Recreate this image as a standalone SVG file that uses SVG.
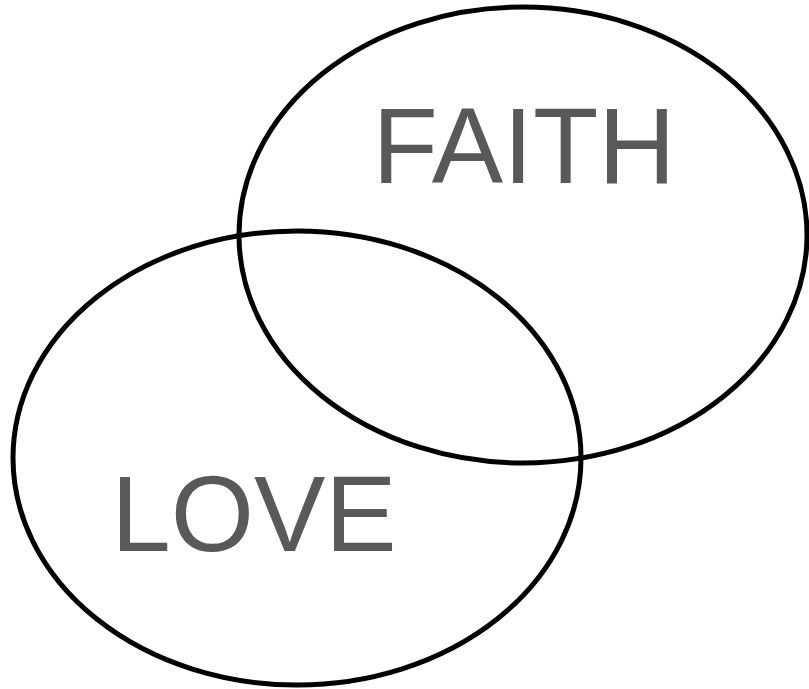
<svg xmlns="http://www.w3.org/2000/svg" width="809" height="689" viewBox="0 0 809 689">
<style>
.set{fill:none;stroke:#000;stroke-width:5}
.lbl{font-family:"Liberation Sans",Arial,sans-serif;font-size:107px;fill:#595959;text-anchor:middle}
</style>
<rect width="809" height="689" fill="#fff"/>
<g id="faith">
<ellipse class="set" cx="523" cy="235" rx="284" ry="228"/>
<text class="lbl" x="524" y="183">FAITH</text>
</g>
<g id="love">
<ellipse class="set" cx="297" cy="458" rx="284" ry="227"/>
<text class="lbl" x="254" y="551">LOVE</text>
</g>
<g id="connectors"></g>
</svg>
